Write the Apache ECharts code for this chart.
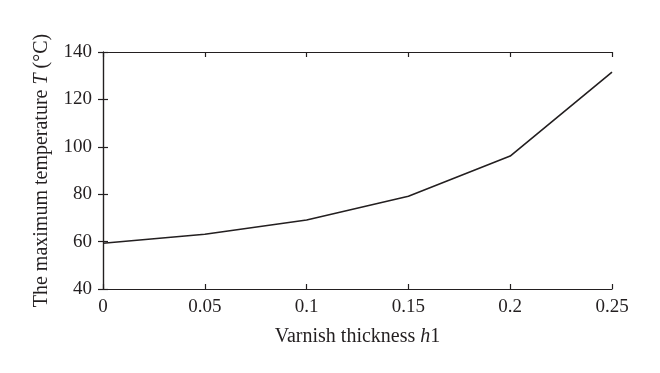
<!DOCTYPE html>
<html>
<head>
<meta charset="utf-8">
<script src="https://cdn.jsdelivr.net/npm/echarts@6/dist/echarts.min.js"></script>
<style>
html,body{margin:0;padding:0;background:#fff;}
#c{width:660px;height:373px;}
</style>
</head>
<body>
<div id="c"></div>
<script>
const thickness = [0, 0.05, 0.1, 0.15, 0.2, 0.25];
const maxTemp = [59.3, 63.1, 69.1, 79.1, 96.1, 131.5];
const xTicks = { min: 0, max: 0.25, interval: 0.05 };
const yTicks = { min: 40, max: 140, interval: 20 };

const FONT = "'Liberation Serif','DejaVu Serif',serif";
const INK = '#231f20';
const chart = echarts.init(document.getElementById('c'), null, { renderer: 'canvas' });

const axisCommon = {
  axisLine: { show: true, lineStyle: { color: INK, width: 1.2 } },
  axisTick: { show: true, inside: true, length: 5, lineStyle: { color: INK, width: 1.2 } },
  splitLine: { show: false }
};

chart.setOption({
  animation: false,
  backgroundColor: '#fff',
  grid: { left: 103, right: 48, top: 52, bottom: 84, containLabel: false },
  xAxis: [
    Object.assign({
      type: 'value', position: 'bottom',
      min: xTicks.min, max: xTicks.max, interval: xTicks.interval,
      axisLabel: { color: INK, fontFamily: FONT, fontSize: 19, margin: 9 },
      name: '{n|Varnish thickness }{i|h}{n|1}',
      nameLocation: 'middle', nameGap: 38,
      nameTextStyle: {
        rich: {
          n: { fontFamily: FONT, fontSize: 20, color: INK },
          i: { fontFamily: FONT, fontSize: 20, color: INK, fontStyle: 'italic' }
        }
      }
    }, axisCommon),
    Object.assign({
      type: 'value', position: 'top',
      min: xTicks.min, max: xTicks.max, interval: xTicks.interval,
      axisLabel: { show: false }
    }, axisCommon)
  ],
  yAxis: [
    Object.assign({
      type: 'value', position: 'left',
      min: yTicks.min, max: yTicks.max, interval: yTicks.interval,
      axisLabel: { color: INK, fontFamily: FONT, fontSize: 19, margin: 11 },
      name: '{n|The maximum temperature }{i|T}{n| (°C)}',
      nameLocation: 'middle', nameGap: 51, nameRotate: 90,
      nameTextStyle: {
        rich: {
          n: { fontFamily: FONT, fontSize: 20, color: INK },
          i: { fontFamily: FONT, fontSize: 20, color: INK, fontStyle: 'italic' }
        }
      }
    }, axisCommon),
    Object.assign({
      type: 'value', position: 'right',
      min: yTicks.min, max: yTicks.max, interval: yTicks.interval,
      axisLabel: { show: false }
    }, axisCommon)
  ],
  series: [{
    type: 'line',
    xAxisIndex: 0, yAxisIndex: 0,
    data: thickness.map((x, i) => [x, maxTemp[i]]),
    showSymbol: false,
    lineStyle: { color: INK, width: 1.6 },
    silent: true
  }]
});
</script>
</body>
</html>
